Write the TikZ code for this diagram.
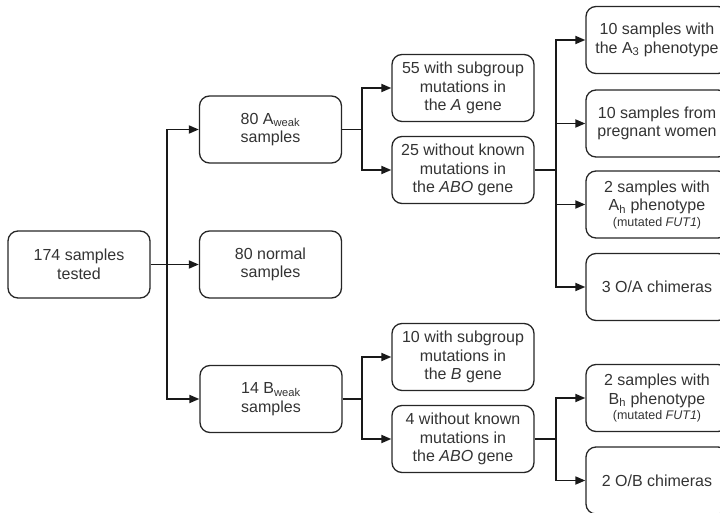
\documentclass[tikz,border=0pt]{standalone}
\usepackage{fontspec}
\setmainfont{Liberation Sans}
\usetikzlibrary{arrows.meta}
\begin{document}
\begin{tikzpicture}[x=1pt,y=-1pt,
  box/.style={draw=black!85, line width=1.3pt, rounded corners=10pt, minimum width=142pt, minimum height=67pt, inner sep=2pt, align=center, font=\fontsize{16}{18.5}\selectfont, text=black!80},
  conn/.style={draw=black!90, line width=1.7pt},
  arr/.style={conn, -{Triangle[length=10pt,width=8pt]}},
  small/.style={}]
\useasboundingbox (0,0) rectangle (720,513);
\node[box] (n174) at (79,264.5) {174 samples\\tested};
\node[box] (aw) at (270.5,129.5) {80 A\textsubscript{weak}\\samples};
\node[box] (norm) at (270.5,264.5) {80 normal\\samples};
\node[box] (bw) at (271,399) {14 B\textsubscript{weak}\\samples};
\node[box] (a1) at (463,88) {55 with subgroup\\mutations in\\the \textit{A} gene};
\node[box] (a2) at (463,170) {25 without known\\mutations in\\the \textit{ABO} gene};
\node[box] (b1) at (463,357) {10 with subgroup\\mutations in\\the \textit{B} gene};
\node[box] (b2) at (463,439) {4 without known\\mutations in\\the \textit{ABO} gene};
\node[box] (r1) at (657,40) {10 samples with\\the A\textsubscript{3} phenotype};
\node[box] (r2) at (657,123.5) {10 samples from\\pregnant women};
\node[box] (r3) at (657,204.5) {2 samples with\\A\textsubscript{h} phenotype\\[-3pt]{\fontsize{12.5}{14}\selectfont (mutated \textit{FUT1})}};
\node[box] (r4) at (657,287) {3 O/A chimeras};
\node[box] (r5) at (657,398) {2 samples with\\B\textsubscript{h} phenotype\\[-3pt]{\fontsize{12.5}{14}\selectfont (mutated \textit{FUT1})}};
\node[box] (r6) at (657,480.5) {2 O/B chimeras};
\coordinate (j1) at (167,264.5);
\coordinate (j2) at (362,129.5);
\coordinate (j3) at (556,170);
\coordinate (j4) at (362,399);
\coordinate (j5) at (556,439);
\draw[arr] (n174.east) -- (norm.west);
\draw[arr] (j1) |- (aw.west);
\draw[arr] (j1) |- (bw.west);
\draw[conn] (aw.east) -- (j2);
\draw[arr] (j2) |- (a1.west);
\draw[arr] (j2) |- (a2.west);
\draw[conn] (a2.east) -- (j3);
\draw[arr] (j3) |- (r1.west);
\draw[arr] (j3) |- (r2.west);
\draw[arr] (j3) |- (r3.west);
\draw[arr] (j3) |- (r4.west);
\draw[conn] (bw.east) -- (j4);
\draw[arr] (j4) |- (b1.west);
\draw[arr] (j4) |- (b2.west);
\draw[conn] (b2.east) -- (j5);
\draw[arr] (j5) |- (r5.west);
\draw[arr] (j5) |- (r6.west);
\end{tikzpicture}
\end{document}
